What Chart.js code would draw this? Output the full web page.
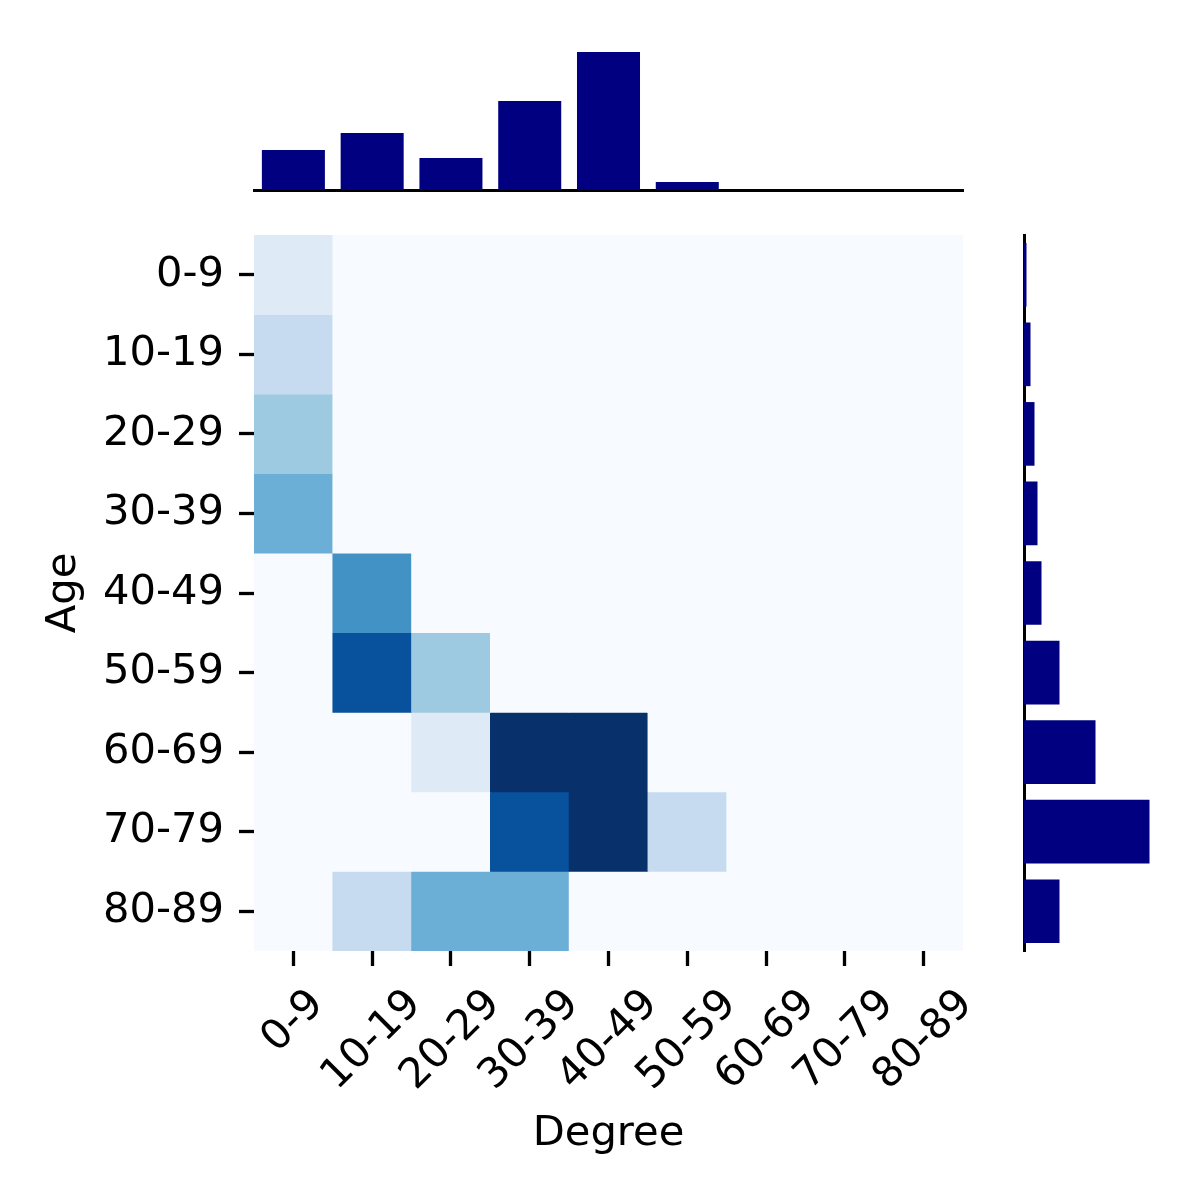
<!DOCTYPE html>
<html>
<head>
<meta charset="utf-8">
<script src="https://cdn.jsdelivr.net/npm/chart.js@4.4.1/dist/chart.umd.min.js"></script>
<style>
  body { margin: 0; background: #fff; }
  #wrap { position: relative; width: 1200px; height: 1200px; }
  #wrap canvas { position: absolute; left: 0; top: 0; }
</style>
</head>
<body>
<div id="wrap">
  <canvas id="heatChart" width="1200" height="1200"></canvas>
  <canvas id="topChart" width="1200" height="1200"></canvas>
  <canvas id="sideChart" width="1200" height="1200"></canvas>
</div>
<script>
const degreeLabels = ['0-9', '10-19', '20-29', '30-39', '40-49', '50-59', '60-69', '70-79', '80-89'];
const ageLabels = ['0-9', '10-19', '20-29', '30-39', '40-49', '50-59', '60-69', '70-79', '80-89'];

// heatmap: one row per age group, one column per degree group (colour level)
const heatValues = [
  [1, 0, 0, 0, 0, 0, 0, 0, 0],
  [2, 0, 0, 0, 0, 0, 0, 0, 0],
  [3, 0, 0, 0, 0, 0, 0, 0, 0],
  [4, 0, 0, 0, 0, 0, 0, 0, 0],
  [0, 5, 0, 0, 0, 0, 0, 0, 0],
  [0, 7, 3, 0, 0, 0, 0, 0, 0],
  [0, 0, 1, 8, 8, 0, 0, 0, 0],
  [0, 0, 0, 7, 8, 2, 0, 0, 0],
  [0, 2, 4, 4, 0, 0, 0, 0, 0]
];
const heatMax = 8;

// marginal bars
const degreeTotals = [40, 57, 32, 89, 138, 8, 0, 0, 0];
const ageTotals = [2.5, 6.5, 10.5, 13.5, 17.5, 35.5, 71.5, 125.5, 35.5];
const marginMax = 145;

const FONT_PX = 41.67;
const NAVY = '#000080';
Chart.defaults.font.family = '"DejaVu Sans", sans-serif';
Chart.defaults.font.size = FONT_PX;
Chart.defaults.color = '#000';

// matplotlib "Blues"
const bluesStops = ['#f7fbff', '#deebf7', '#c6dbef', '#9ecae1', '#6baed6', '#4292c6', '#2171b5', '#08519c', '#08306b'];
function hexToRgb(h) {
  return [parseInt(h.slice(1, 3), 16), parseInt(h.slice(3, 5), 16), parseInt(h.slice(5, 7), 16)];
}
function blues(t) {
  t = Math.max(0, Math.min(1, t));
  const pos = t * (bluesStops.length - 1);
  const i = Math.min(Math.floor(pos), bluesStops.length - 2);
  const f = pos - i;
  const a = hexToRgb(bluesStops[i]);
  const b = hexToRgb(bluesStops[i + 1]);
  const c = a.map((v, k) => Math.round(v + (b[k] - v) * f));
  return `rgb(${c[0]}, ${c[1]}, ${c[2]})`;
}

// rotated x labels, centred under each tick like matplotlib
const rotatedDegreeLabels = {
  id: 'rotatedDegreeLabels',
  afterDraw(chart) {
    const ctx = chart.ctx;
    const xScale = chart.scales.x;
    ctx.save();
    ctx.font = `${FONT_PX}px "DejaVu Sans"`;
    ctx.fillStyle = '#000';
    ctx.textAlign = 'center';
    ctx.textBaseline = 'middle';
    degreeLabels.forEach((lab, i) => {
      const w = ctx.measureText(lab).width;
      const h = FONT_PX * 1.165;
      const cx = xScale.getPixelForTick(i);
      const cy = xScale.top + 15 + 14.6 + (w + h) * Math.SQRT1_2 / 2;
      ctx.save();
      ctx.translate(cx, cy);
      ctx.rotate(-Math.PI / 4);
      ctx.fillText(lab, 0, 0);
      ctx.restore();
    });
    ctx.restore();
  }
};

const tickGrid = { drawOnChartArea: false, drawTicks: true, tickLength: 15, tickWidth: 3.3, tickColor: '#000', offset: false };

const heatDatasets = ageLabels.map((age, r) => ({
  label: age,
  data: degreeLabels.map(() => 1),
  backgroundColor: heatValues[r].map(v => blues(v / heatMax)),
  borderWidth: 0,
  barPercentage: 1,
  categoryPercentage: 1
}));

new Chart(document.getElementById('heatChart'), {
  type: 'bar',
  data: { labels: degreeLabels, datasets: heatDatasets },
  plugins: [rotatedDegreeLabels],
  options: {
    responsive: false,
    animation: false,
    layout: { padding: { left: 0, right: 237, top: 235, bottom: 0 } },
    plugins: { legend: { display: false }, tooltip: { enabled: false } },
    scales: {
      x: {
        stacked: true,
        grid: tickGrid,
        border: { display: false },
        ticks: { display: false },
        title: { display: true, text: 'Degree', font: { size: FONT_PX }, padding: { bottom: 41 } },
        afterFit: s => { s.height = 249; }
      },
      y: {
        stacked: true,
        reverse: true,
        min: 0,
        max: 9,
        grid: tickGrid,
        border: { display: false },
        afterBuildTicks: axis => { axis.ticks = ageLabels.map((_, i) => ({ value: i + 0.5 })); },
        ticks: { autoSkip: false, padding: 15, callback: (v, i) => ageLabels[i] },
        title: { display: true, text: 'Age', font: { size: FONT_PX }, padding: { top: 39 } },
        afterFit: s => { s.width = 254; }
      }
    }
  }
});

new Chart(document.getElementById('topChart'), {
  type: 'bar',
  data: {
    labels: degreeLabels,
    datasets: [{ data: degreeTotals, backgroundColor: NAVY, borderWidth: 0, barPercentage: 0.8, categoryPercentage: 1 }]
  },
  options: {
    responsive: false,
    animation: false,
    layout: { padding: { left: 254, right: 237, top: 45, bottom: 1010 } },
    plugins: { legend: { display: false }, tooltip: { enabled: false } },
    scales: {
      x: {
        z: 1,
        grid: { display: false },
        ticks: { display: false },
        border: { display: true, color: '#000', width: 3 },
        afterFit: s => { s.height = 0; }
      },
      y: { display: false, min: 0, max: marginMax }
    }
  }
});

new Chart(document.getElementById('sideChart'), {
  type: 'bar',
  data: {
    labels: ageLabels,
    datasets: [{ data: ageTotals, backgroundColor: NAVY, borderWidth: 0, barPercentage: 0.8, categoryPercentage: 1 }]
  },
  options: {
    indexAxis: 'y',
    responsive: false,
    animation: false,
    layout: { padding: { left: 1024, right: 31, top: 235, bottom: 249 } },
    plugins: { legend: { display: false }, tooltip: { enabled: false } },
    scales: {
      y: {
        z: 1,
        grid: { display: false },
        ticks: { display: false },
        border: { display: true, color: '#000', width: 3 },
        afterFit: s => { s.width = 0; }
      },
      x: { display: false, min: 0, max: marginMax }
    }
  }
});
</script>
</body>
</html>
